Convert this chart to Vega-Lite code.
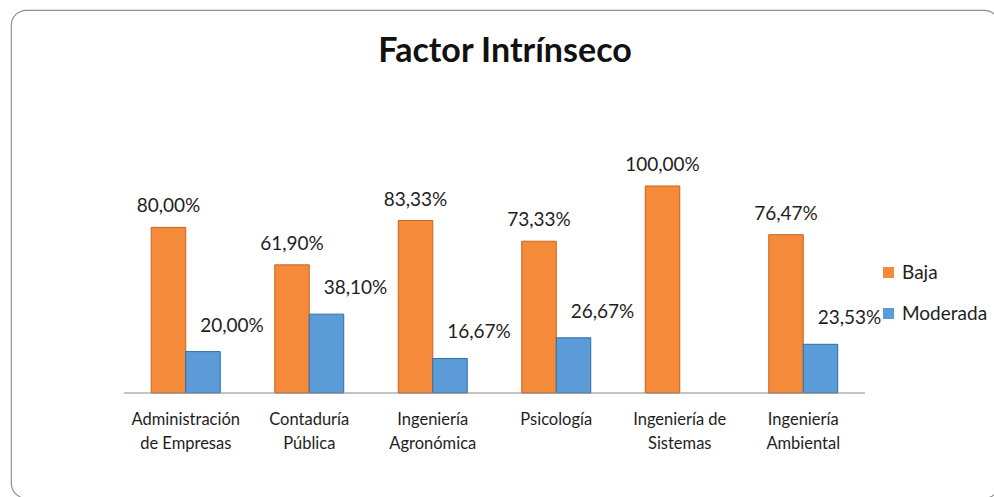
{
  "$schema": "https://vega.github.io/schema/vega-lite/v6.json",
  "autosize": "none",
  "width": 988,
  "height": 488,
  "padding": {"left": 11, "top": 10, "right": 0, "bottom": 0},
  "background": "white",
  "title": {
    "text": "Factor Intrínseco",
    "font": "Lato",
    "fontSize": 34,
    "fontWeight": "bold",
    "color": "#111111",
    "baseline": "alphabetic",
    "offset": -86
  },
  "config": {
    "view": {"stroke": "#8f8f8f", "strokeWidth": 1.2, "cornerRadius": 15},
    "locale": {
      "number": {"decimal": ",", "thousands": ".", "grouping": [3], "currency": ["", " €"]}
    }
  },
  "layer": [
    {
      "data": {
        "values": [
          {"carrera": "Administración de Empresas", "nivel": "Baja", "valor": 0.8},
          {"carrera": "Administración de Empresas", "nivel": "Moderada", "valor": 0.2},
          {"carrera": "Contaduría Pública", "nivel": "Baja", "valor": 0.619},
          {"carrera": "Contaduría Pública", "nivel": "Moderada", "valor": 0.381},
          {"carrera": "Ingeniería Agronómica", "nivel": "Baja", "valor": 0.8333},
          {"carrera": "Ingeniería Agronómica", "nivel": "Moderada", "valor": 0.1667},
          {"carrera": "Psicología", "nivel": "Baja", "valor": 0.7333},
          {"carrera": "Psicología", "nivel": "Moderada", "valor": 0.2667},
          {"carrera": "Ingeniería de Sistemas", "nivel": "Baja", "valor": 1.0},
          {"carrera": "Ingeniería Ambiental", "nivel": "Baja", "valor": 0.7647},
          {"carrera": "Ingeniería Ambiental", "nivel": "Moderada", "valor": 0.2353}
        ]
      },
      "encoding": {
        "x": {
          "field": "carrera",
          "type": "nominal",
          "scale": {
            "domain": ["Administración de Empresas", "Contaduría Pública", "Ingeniería Agronómica", "Psicología", "Ingeniería de Sistemas", "Ingeniería Ambiental"],
            "paddingInner": 0,
            "paddingOuter": 1,
            "align": 0.4575
          },
          "axis": {
            "title": null,
            "domain": false,
            "ticks": false,
            "labelAngle": 0,
            "labelFont": "Lato",
            "labelFontSize": 16.5,
            "labelColor": "#1e1e1e",
            "labelLineHeight": 24,
            "labelPadding": 18,
            "labelBaseline": "top",
            "offset": -105,
            "labelExpr": "datum.label == 'Administración de Empresas' ? ['Administración', 'de Empresas'] : datum.label == 'Ingeniería de Sistemas' ? ['Ingeniería de', 'Sistemas'] : split(datum.label, ' ')"
          }
        },
        "xOffset": {
          "field": "nivel",
          "type": "nominal",
          "scale": {"domain": ["Baja", "Moderada"], "paddingInner": 0, "paddingOuter": 0.79}
        },
        "y": {
          "field": "valor",
          "type": "quantitative",
          "scale": {"domain": [-0.5072, 1.8502], "nice": false, "zero": false},
          "axis": null
        }
      },
      "layer": [
        {
          "mark": {"type": "bar", "strokeWidth": 1},
          "encoding": {
            "color": {
              "field": "nivel",
              "type": "nominal",
              "scale": {"domain": ["Baja", "Moderada"], "range": ["#F58A3A", "#5A9BD8"]},
              "legend": {
                "title": null,
                "orient": "none",
                "legendX": 868,
                "legendY": 253,
                "symbolType": "square",
                "symbolSize": 121,
                "symbolStrokeWidth": 0,
                "labelFont": "Lato",
                "labelFontSize": 19,
                "labelColor": "#1e1e1e",
                "labelOffset": 4,
                "rowPadding": 21
              }
            },
            "stroke": {
              "field": "nivel",
              "type": "nominal",
              "scale": {"domain": ["Baja", "Moderada"], "range": ["#C8621E", "#2F6FA8"]},
              "legend": null
            }
          }
        },
        {
          "transform": [{"filter": "datum.nivel == 'Baja'"}],
          "mark": {"type": "text", "font": "Lato", "fontSize": 19, "color": "#1e1e1e", "baseline": "alphabetic", "dy": -15},
          "encoding": {"text": {"field": "valor", "type": "quantitative", "format": ".2%"}}
        },
        {
          "transform": [{"filter": "datum.nivel == 'Moderada'"}],
          "mark": {"type": "text", "font": "Lato", "fontSize": 19, "color": "#1e1e1e", "baseline": "alphabetic", "dy": -20, "dx": 29},
          "encoding": {"text": {"field": "valor", "type": "quantitative", "format": ".2%"}}
        }
      ]
    },
    {
      "data": {"values": [{"desde": "Administración de Empresas", "hasta": "Ingeniería Ambiental"}]},
      "mark": {"type": "rule", "color": "#8a8a8a", "strokeWidth": 1.2},
      "encoding": {
        "x": {"field": "desde", "type": "nominal", "bandPosition": 0},
        "x2": {"field": "hasta", "bandPosition": 1},
        "y": {"datum": 0, "type": "quantitative"}
      }
    }
  ]
}
